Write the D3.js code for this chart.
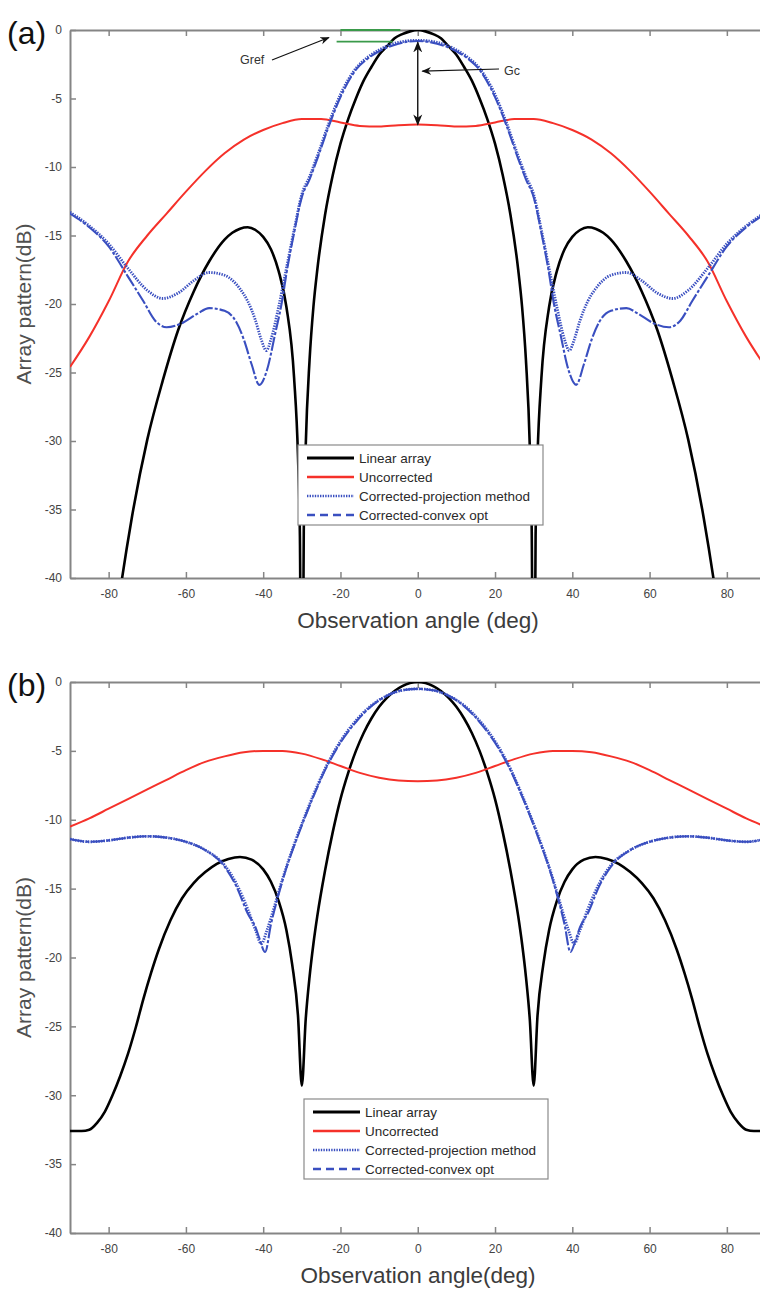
<!DOCTYPE html>
<html><head><meta charset="utf-8">
<script src="https://cdn.jsdelivr.net/npm/d3@7"></script>
<style>body{margin:0;background:#fff}svg{display:block}</style>
</head><body>
<svg id="c" width="760" height="1289"></svg>
<script>
// ---------- data ----------
const xTicks = [-80,-60,-40,-20,0,20,40,60,80];
const yTicks = [0,-5,-10,-15,-20,-25,-30,-35,-40];
const legendNames = ["Linear array","Uncorrected","Corrected-projection method","Corrected-convex opt"];

// Panel (a)
const angA_lin = [-90,-80,-78,-74,-70,-66,-62,-58,-54,-50,-48,-46,-44,-42,-40,-38,-36,-34,-32,-31,-30.5,-30,-29.5,-29,-28,-27,-26,-24,-22,-20,-18,-16,-14,-12,-10,-8,-6,-4,-2,0,2,4,6,8,10,12,14,16,18,20,22,24,26,27,28,29,29.5,30,30.5,31,32,34,36,38,40,42,44,46,48,50,54,58,62,66,70,74,78,80,90];
const valA_lin = [-60,-47.7,-43.0,-35.6,-29.9,-25.6,-21.9,-19.1,-16.9,-15.3,-14.8,-14.5,-14.4,-14.6,-15.1,-16.0,-17.6,-20.2,-25.4,-31.1,-36.9,-60,-36.6,-30.4,-24.1,-20.2,-17.5,-13.5,-10.6,-8.3,-6.5,-5.0,-3.7,-2.7,-1.8,-1.2,-0.6,-0.3,-0.1,0,-0.1,-0.3,-0.6,-1.2,-1.8,-2.7,-3.7,-5.0,-6.5,-8.3,-10.6,-13.5,-17.5,-20.2,-24.1,-30.4,-36.6,-60,-36.9,-31.1,-25.4,-20.2,-17.6,-16.0,-15.1,-14.6,-14.4,-14.5,-14.8,-15.3,-16.9,-19.1,-21.9,-25.6,-29.9,-35.6,-43.0,-47.7,-60];

const angA_unc = [-90,-85,-80,-75,-70,-65,-60,-55,-50,-45,-40,-35,-30,-25,-20,-15,-10,-5,0,5,10,15,20,25,30,35,40,45,50,55,60,65,70,75,80,85,90];
const valA_unc = [-24.6,-22.4,-19.8,-16.9,-15.0,-13.4,-11.8,-10.3,-9.0,-8.0,-7.3,-6.8,-6.5,-6.5,-6.75,-7.0,-7.05,-6.95,-6.9,-6.95,-7.05,-7.0,-6.75,-6.5,-6.5,-6.8,-7.3,-8.0,-9.0,-10.3,-11.8,-13.4,-15.0,-16.9,-19.8,-22.4,-24.6];

const angA_proj = [-90,-85,-80,-75,-70,-66,-62,-58,-54,-50,-46,-44,-42,-40.5,-39.2,-38,-36,-34,-32,-30,-28,-26,-23,-20,-16,-13,-10,-5,0,5,10,13,16,20,23,26,28,30,32,34,36,38,39.2,40.5,42,44,46,50,54,58,62,66,70,75,80,85,90];
const valA_proj = [-13.3,-14.3,-15.6,-17.4,-19.0,-19.6,-19.2,-18.3,-17.7,-17.9,-18.9,-19.8,-21.2,-22.6,-23.4,-22.6,-20.2,-17.4,-14.6,-12.0,-10.7,-9.2,-6.8,-4.7,-2.8,-2.0,-1.45,-0.9,-0.75,-0.9,-1.45,-2.0,-2.8,-4.7,-6.8,-9.2,-10.7,-12.0,-14.6,-17.4,-20.2,-22.6,-23.4,-22.6,-21.2,-19.8,-18.9,-17.9,-17.7,-18.3,-19.2,-19.6,-19.0,-17.4,-15.6,-14.3,-13.3];

const angA_cvx = [-90,-85,-80,-75,-71,-68,-65,-61,-57,-54,-50,-47,-45,-43,-41,-39,-37,-35,-34,-32,-30,-28,-26,-23,-20,-16,-13,-10,-5,0,5,10,13,16,20,23,26,28,30,32,34,35,37,39,41,43,45,47,50,54,57,61,65,68,71,75,80,85,90];
const valA_cvx = [-13.4,-14.4,-15.8,-18.0,-19.8,-21.2,-21.7,-21.4,-20.7,-20.3,-20.5,-21.3,-22.6,-24.4,-25.9,-24.8,-22.3,-19.6,-17.8,-14.8,-12.2,-10.9,-9.4,-7.0,-4.9,-2.9,-2.1,-1.55,-1.0,-0.8,-1.0,-1.55,-2.1,-2.9,-4.9,-7.0,-9.4,-10.9,-12.2,-14.8,-17.8,-19.6,-22.3,-24.8,-25.9,-24.4,-22.6,-21.3,-20.5,-20.3,-20.7,-21.4,-21.7,-21.2,-19.8,-18.0,-15.8,-14.4,-13.4];

// Panel (b)
const angB_lin = [-90,-87,-85,-83,-81,-79,-77,-75,-73,-71,-69,-67,-64,-61,-58,-55,-52,-49,-46,-43,-40,-38,-36,-34,-32.5,-31,-30,-29,-28,-27,-26,-24,-22,-20,-18,-16,-14,-12,-10,-8,-6,-4,-2,0,2,4,6,8,10,12,14,16,18,20,22,24,26,27,28,29,30,31,32.5,34,36,38,40,43,46,49,52,55,58,61,64,67,69,71,73,75,77,79,81,83,85,87,90];
const valB_lin = [-32.6,-32.6,-32.5,-32.0,-31.2,-30.0,-28.6,-27.0,-25.1,-23.0,-21.1,-19.4,-17.3,-15.7,-14.6,-13.8,-13.2,-12.85,-12.7,-12.9,-13.6,-14.5,-15.9,-18.0,-20.5,-24.2,-29.3,-24.5,-21.4,-19.0,-17.0,-13.7,-10.9,-8.5,-6.6,-5.0,-3.7,-2.65,-1.8,-1.15,-0.65,-0.3,-0.08,0,-0.08,-0.3,-0.65,-1.15,-1.8,-2.65,-3.7,-5.0,-6.6,-8.5,-10.9,-13.7,-17.0,-19.0,-21.4,-24.5,-29.3,-24.2,-20.5,-18.0,-15.9,-14.5,-13.6,-12.9,-12.7,-12.85,-13.2,-13.8,-14.6,-15.7,-17.3,-19.4,-21.1,-23.0,-25.1,-27.0,-28.6,-30.0,-31.2,-32.0,-32.5,-32.6,-32.6];

const angB_unc = [-90,-85,-80,-75,-70,-65,-60,-55,-50,-45,-40,-35,-30,-25,-20,-15,-10,-5,0,5,10,15,20,25,30,35,40,45,50,55,60,65,70,75,80,85,90];
const valB_unc = [-10.5,-9.9,-9.2,-8.5,-7.8,-7.1,-6.4,-5.8,-5.4,-5.1,-5.0,-5.0,-5.2,-5.6,-6.1,-6.6,-6.95,-7.15,-7.2,-7.15,-6.95,-6.6,-6.1,-5.6,-5.2,-5.0,-5.0,-5.1,-5.4,-5.8,-6.4,-7.1,-7.8,-8.5,-9.2,-9.9,-10.5];

const angB_proj = [-90,-85,-80,-75,-70,-65,-60,-55,-50,-47,-44,-42,-40.5,-39,-37,-35,-32,-30,-27,-24,-20,-16,-12,-8,-4,0,4,8,12,16,20,24,27,30,32,35,37,39,40.5,42,44,47,50,55,60,65,70,75,80,85,90];
const valB_proj = [-11.4,-11.6,-11.5,-11.3,-11.2,-11.3,-11.6,-12.2,-13.3,-14.6,-16.5,-18.0,-19.0,-18.0,-16.2,-14.3,-11.8,-10.3,-8.2,-6.3,-4.3,-2.8,-1.7,-1.0,-0.6,-0.5,-0.6,-1.0,-1.7,-2.8,-4.3,-6.3,-8.2,-10.3,-11.8,-14.3,-16.2,-18.0,-19.0,-18.0,-16.5,-14.6,-13.3,-12.2,-11.6,-11.3,-11.2,-11.3,-11.5,-11.6,-11.4];

const angB_cvx = [-90,-85,-80,-75,-70,-65,-60,-55,-50,-47,-44,-42,-41,-39.5,-38,-36,-34,-32,-30,-27,-24,-20,-16,-12,-8,-4,0,4,8,12,16,20,24,27,30,32,34,36,38,39.5,41,42,44,47,50,55,60,65,70,75,80,85,90];
const valB_cvx = [-11.4,-11.6,-11.5,-11.3,-11.2,-11.3,-11.6,-12.2,-13.4,-14.8,-16.8,-17.8,-18.6,-19.6,-17.6,-15.4,-13.5,-11.9,-10.4,-8.3,-6.4,-4.4,-2.9,-1.75,-1.0,-0.6,-0.5,-0.6,-1.0,-1.75,-2.9,-4.4,-6.4,-8.3,-10.4,-11.9,-13.5,-15.4,-17.6,-19.6,-18.6,-17.8,-16.8,-14.8,-13.4,-12.2,-11.6,-11.3,-11.2,-11.3,-11.5,-11.6,-11.4];

// ---------- drawing ----------
const svg = d3.select("#c");
const BLUE = "#3a4fc0", RED = "#f5312a", AXIS = "#858585", TXT = "#444";
const styles = [
  {stroke:"#000", width:2.6, dash:null},
  {stroke:RED, width:2, dash:null},
  {stroke:BLUE, width:2.8, dash:"1.4,1.2"},
  {stroke:BLUE, width:2.1, dash:"14,2,3,2"}
];

function panel(cfg){
  const g = svg.append("g");
  const x = d3.scaleLinear().domain([-90,90]).range([70,765.5]);
  const y = d3.scaleLinear().domain([-40,0]).range([cfg.bottom, cfg.top]);
  const clipId = "clip"+cfg.id;
  svg.append("clipPath").attr("id",clipId).append("rect")
     .attr("x",70).attr("y",cfg.top).attr("width",695.5).attr("height",cfg.bottom-cfg.top);

  const fmt = d => String(d);
  const styleAxis = a => {
    a.selectAll("path.domain").attr("stroke",AXIS).attr("stroke-width",2);
    a.selectAll(".tick line").attr("stroke",AXIS).attr("stroke-width",1.5);
    a.selectAll("text").attr("fill",TXT).style("font-family","'Liberation Sans Narrow','Liberation Sans',Arial,sans-serif").style("font-size","12px");
  };
  const ax = g.append("g").attr("transform",`translate(0,${cfg.bottom})`)
    .call(d3.axisBottom(x).tickValues(xTicks).tickFormat(fmt).tickSizeInner(-6).tickSizeOuter(0).tickPadding(11));
  styleAxis(ax);
  const axt = g.append("g").attr("transform",`translate(0,${cfg.top})`)
    .call(d3.axisTop(x).tickValues(xTicks).tickSizeInner(-6).tickSizeOuter(0).tickFormat(""));
  styleAxis(axt);
  const ay = g.append("g").attr("transform",`translate(70,0)`)
    .call(d3.axisLeft(y).tickValues(yTicks).tickFormat(fmt).tickSizeInner(-6).tickSizeOuter(0).tickPadding(8));
  styleAxis(ay);

  const line = d3.line().x(d=>x(d[0])).y(d=>y(d[1])).curve(d3.curveMonotoneX);
  const lg = g.append("g").attr("clip-path",`url(#${clipId})`);
  cfg.series.forEach((s,i)=>{
    const pts = s[0].map((a,k)=>[a,s[1][k]]);
    const st = styles[i];
    lg.append("path").datum(pts).attr("d",line).attr("fill","none")
      .attr("stroke",st.stroke).attr("stroke-width",st.width)
      .attr("stroke-dasharray",st.dash).attr("stroke-linejoin","round");
  });

  g.append("text").attr("transform",`translate(${cfg.ylx},${(cfg.top+cfg.bottom)/2}) rotate(-90)`)
    .attr("text-anchor","middle").attr("fill","#505050")
    .style("font-family","'Liberation Sans',Arial,sans-serif").style("font-size","21px")
    .text("Array pattern(dB)");
  g.append("text").attr("x",418).attr("y",cfg.bottom+50).attr("text-anchor","middle")
    .attr("fill","#3c3c3c").style("font-family","'Liberation Sans',Arial,sans-serif").style("font-size","22.5px")
    .text(cfg.xlabel);
  g.append("text").attr("x",7).attr("y",cfg.top+14).attr("fill","#111")
    .style("font-family","'Liberation Sans',Arial,sans-serif").style("font-size","32px").text(cfg.label);

  const L = cfg.legend;
  const lgd = g.append("g");
  lgd.append("rect").attr("x",L.x).attr("y",L.y).attr("width",L.w).attr("height",L.h)
    .attr("fill","#fff").attr("stroke","#8a8a8a").attr("stroke-width",1.2);
  legendNames.forEach((n,i)=>{
    const yy = L.y + 13 + i*19;
    const st = styles[i];
    lgd.append("line").attr("x1",L.x+9).attr("x2",L.x+56).attr("y1",yy).attr("y2",yy)
      .attr("stroke",st.stroke).attr("stroke-width",i===0?3:2.4)
      .attr("stroke-dasharray", i===2?"1.4,1.2":(i===3?"8,5":null));
    lgd.append("text").attr("x",L.x+61).attr("y",yy+4.5).attr("fill","#2a2a2a")
      .style("font-family","'Liberation Sans Narrow','Liberation Sans',Arial,sans-serif").style("font-size","13.5px")
      .text(n);
  });
  return {g,x,y};
}

const A = panel({id:"a", top:30, bottom:578, ylx:31, label:"(a)", xlabel:"Observation angle (deg)",
  legend:{x:298,y:445,w:245,h:80},
  series:[[angA_lin,valA_lin],[angA_unc,valA_unc],[angA_proj,valA_proj],[angA_cvx,valA_cvx]]});
const B = panel({id:"b", top:682, bottom:1233, ylx:31, label:"(b)", xlabel:"Observation angle(deg)",
  legend:{x:304,y:1099,w:244,h:80},
  series:[[angB_lin,valB_lin],[angB_unc,valB_unc],[angB_proj,valB_proj],[angB_cvx,valB_cvx]]});

// ---------- annotations in (a) ----------
const GREEN = "#3a9a4a";
const defs = svg.append("defs");
defs.append("marker").attr("id","ah").attr("viewBox","0 0 10 10").attr("refX",9).attr("refY",5)
  .attr("markerWidth",8).attr("markerHeight",8).attr("orient","auto-start-reverse")
  .append("path").attr("d","M0,1 L10,5 L0,9 L3,5 Z").attr("fill","#111");
const gA = A.g;
gA.append("line").attr("x1",A.x(-20)).attr("x2",A.x(-4.5)).attr("y1",A.y(0)).attr("y2",A.y(0))
  .attr("stroke",GREEN).attr("stroke-width",1.8);
gA.append("line").attr("x1",A.x(-21)).attr("x2",A.x(-6.5)).attr("y1",A.y(-0.85)).attr("y2",A.y(-0.85))
  .attr("stroke",GREEN).attr("stroke-width",1.8);
gA.append("line").attr("x1",272).attr("y1",60).attr("x2",A.x(-23)).attr("y2",A.y(-0.55))
  .attr("stroke","#111").attr("stroke-width",1.2).attr("marker-end","url(#ah)");
gA.append("text").attr("x",240).attr("y",64).attr("fill","#333")
  .style("font-family","'Liberation Sans',Arial,sans-serif").style("font-size","12.5px").text("Gref");
gA.append("line").attr("x1",A.x(0)).attr("x2",A.x(0)).attr("y1",A.y(-0.9)).attr("y2",A.y(-6.9))
  .attr("stroke","#111").attr("stroke-width",1.4).attr("marker-start","url(#ah)").attr("marker-end","url(#ah)");
gA.append("line").attr("x1",499).attr("y1",69).attr("x2",A.x(1.2)).attr("y2",A.y(-3))
  .attr("stroke","#111").attr("stroke-width",1.2).attr("marker-end","url(#ah)");
gA.append("text").attr("x",504).attr("y",75).attr("fill","#333")
  .style("font-family","'Liberation Sans',Arial,sans-serif").style("font-size","12.5px").text("Gc");
</script>
</body></html>
